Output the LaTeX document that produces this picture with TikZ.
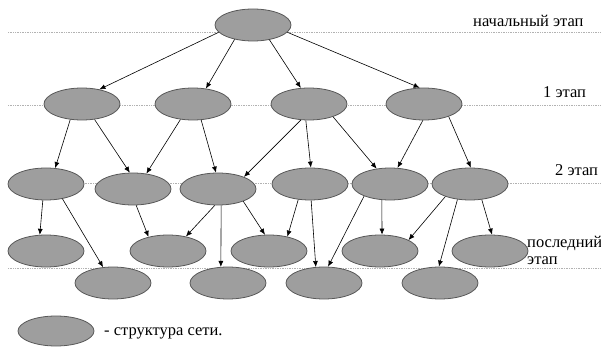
\documentclass[tikz,border=0pt]{standalone}
\usepackage{fontspec}
\setmainfont{Liberation Serif}
\usetikzlibrary{arrows.meta, shapes.geometric}

\begin{document}
\begin{tikzpicture}[
        x=1pt, y=-1pt,
        net/.style={ellipse, draw=black!65, fill=black!38, line width=0.8pt, minimum width=76pt, minimum height=32pt, inner sep=0pt},
        stage/.style={densely dotted, black!30, line width=0.7pt},
        lbl/.style={font=\fontsize{16.5}{19}\selectfont, inner sep=0pt, anchor=base west},
        arr/.style={-{Latex[length=6pt, width=5pt]}, line width=0.6pt}
    ]
        \useasboundingbox (0,0) rectangle (601,347);

        \draw[stage] (8,32) -- (601,32);
        \draw[stage] (8,105) -- (601,105);
        \draw[stage] (8,183) -- (601,183);
        \draw[stage] (8,268) -- (601,268);

        \node[net] (N0) at (253,25) {};
        \node[net] (N1) at (82,104) {};
        \node[net] (N2) at (193,104) {};
        \node[net] (N3) at (309,104) {};
        \node[net] (N4) at (424,104) {};

        \node[net] (M1) at (46,184) {};
        \node[net] (M2) at (133,189) {};
        \node[net] (M3) at (218,189) {};
        \node[net] (M4) at (310,184) {};
        \node[net] (M5) at (390,184) {};
        \node[net] (M6) at (470,184) {};

        \node[net] (P1) at (46,251) {};
        \node[net] (P2) at (168,251) {};
        \node[net] (P3) at (269,251) {};
        \node[net] (P4) at (380,251) {};
        \node[net] (P5) at (490,251) {};
        \node[net] (Q1) at (113,283) {};
        \node[net] (Q2) at (228,283) {};
        \node[net] (Q3) at (324,283) {};
        \node[net] (Q4) at (440,283) {};

        \node[net, minimum height=30pt] (key) at (56,331) {};

        \node[lbl] (st0) at (473,27) {начальный этап};
        \node[lbl] (st1) at (543,98) {1 этап};
        \node[lbl] (st2) at (555,176) {2 этап};
        \node[lbl] (st3) at (527,247) {последний};
        \node[lbl] (st3b) at (527,264) {этап};
        \node[lbl] (keytxt) at (104,335) {- структура сети.};

        \draw[arr] (N0.192) -- (N1.40);
        \draw[arr] (N0.218) -- (N2.50);
        \draw[arr] (N0.-42) -- (N3.117);
        \draw[arr] (N0.-12) -- (N4.105);

        \draw[arr] (N1.233) -- (M1.60);
        \draw[arr] (N1.-51) -- (M2.101);
        \draw[arr] (N2.231) -- (M2.49);
        \draw[arr] (N2.-63) -- (M3.97);
        \draw[arr] (N3.243) -- (M3.25);
        \draw[arr] (N3.259) -- (M4.87);
        \draw[arr] (N3.-28) -- (M5.131);
        \draw[arr] (N4.266) -- (M5.65);
        \draw[arr] (N4.-27) -- (M6.87);

        \draw[arr] (M1.259) -- (P1.111);
        \draw[arr] (M1.-42) -- (Q1.122);
        \draw[arr] (M2.-79) -- (P2.144);
        \draw[arr] (M3.259) -- (P2.39);
        \draw[arr] (M3.-79) -- (Q2.114);
        \draw[arr] (M3.-26) -- (P3.104);
        \draw[arr] (M4.233) -- (P3.38);
        \draw[arr] (M4.-86) -- (Q3.117);
        \draw[arr] (M5.205) -- (Q3.76);
        \draw[arr] (M5.243) -- (P4.83);
        \draw[arr] (M6.207) -- (P4.21);
        \draw[arr] (M6.231) -- (Q4.94);
        \draw[arr] (M6.-53) -- (P5.83);
    \end{tikzpicture}
\end{document}
